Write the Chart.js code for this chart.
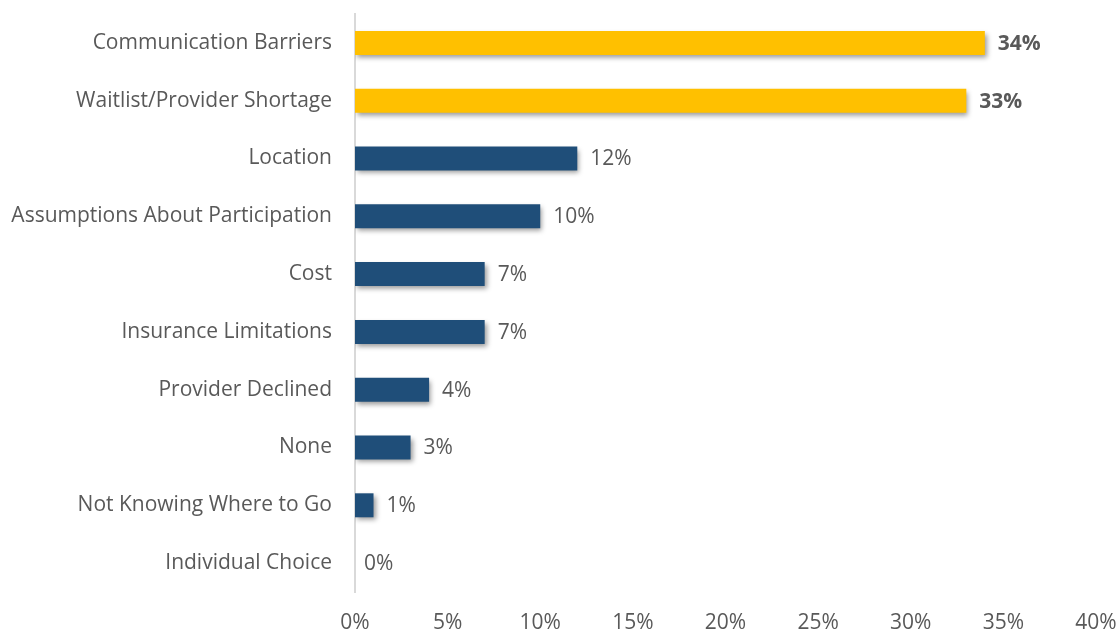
<!DOCTYPE html>
<html>
<head>
<meta charset="utf-8">
<script src="https://cdn.jsdelivr.net/npm/chart.js@4"></script>
<style>
  html, body { margin: 0; padding: 0; background: #fff; }
  #wrap { width: 1119px; height: 634px; }
</style>
</head>
<body>
<div id="wrap"><canvas id="chart"></canvas></div>
<script>
const categories = [
  'Communication Barriers',
  'Waitlist/Provider Shortage',
  'Location',
  'Assumptions About Participation',
  'Cost',
  'Insurance Limitations',
  'Provider Declined',
  'None',
  'Not Knowing Where to Go',
  'Individual Choice'
];
const shares = [34, 33, 12, 10, 7, 7, 4, 3, 1, 0];
const highlighted = [true, true, false, false, false, false, false, false, false, false];

const FONT = '"Open Sans", sans-serif';
const SIZE = 21;
const GRAY = '#595959';

// bar shadow + value labels at the end of each bar
const barDecor = {
  id: 'barDecor',
  beforeDatasetsDraw(chart) {
    const ctx = chart.ctx;
    ctx.save();
    ctx.shadowColor = 'rgba(0,0,0,0.4)';
    ctx.shadowBlur = 5;
    ctx.shadowOffsetX = 2;
    ctx.shadowOffsetY = 3;
  },
  afterDatasetsDraw(chart) {
    const ctx = chart.ctx;
    ctx.restore();
    const meta = chart.getDatasetMeta(0);
    ctx.save();
    ctx.fillStyle = GRAY;
    ctx.textBaseline = 'middle';
    ctx.textAlign = 'left';
    meta.data.forEach((bar, i) => {
      ctx.font = (highlighted[i] ? 'bold ' : '') + SIZE + 'px ' + FONT;
      const gap = shares[i] === 0 ? 9 : 13;
      ctx.fillText(shares[i] + '%', bar.x + gap, bar.y + 1);
    });
    ctx.restore();
  }
};

new Chart(document.getElementById('chart'), {
  type: 'bar',
  data: {
    labels: categories,
    datasets: [{
      data: shares,
      backgroundColor: highlighted.map(h => h ? '#FFC000' : '#1F4E79'),
      categoryPercentage: 1,
      barPercentage: 0.415
    }]
  },
  options: {
    indexAxis: 'y',
    responsive: true,
    maintainAspectRatio: false,
    animation: false,
    layout: { padding: { top: 14, right: 23, left: 0, bottom: 0 } },
    plugins: { legend: { display: false }, tooltip: { enabled: false } },
    scales: {
      x: {
        min: 0,
        max: 40,
        ticks: {
          stepSize: 5,
          color: GRAY,
          font: { family: FONT, size: SIZE },
          padding: 10,
          callback: v => v + '%'
        },
        grid: { display: false },
        border: { display: false },
        afterFit(scale) {
          scale.height = 42;
          // let the end labels overhang the plot edges
          scale.paddingLeft = 0;
          scale.paddingRight = 0;
        }
      },
      y: {
        ticks: {
          color: GRAY,
          font: { family: FONT, size: SIZE },
          padding: 0
        },
        // invisible tick marks keep the labels clear of the axis line
        grid: { drawOnChartArea: false, drawTicks: true, tickLength: 23, tickColor: 'rgba(0,0,0,0)' },
        border: { color: '#D9D9D9', width: 2 },
        afterFit(scale) { scale.width = 355; }
      }
    }
  },
  plugins: [barDecor]
});
</script>
</body>
</html>
